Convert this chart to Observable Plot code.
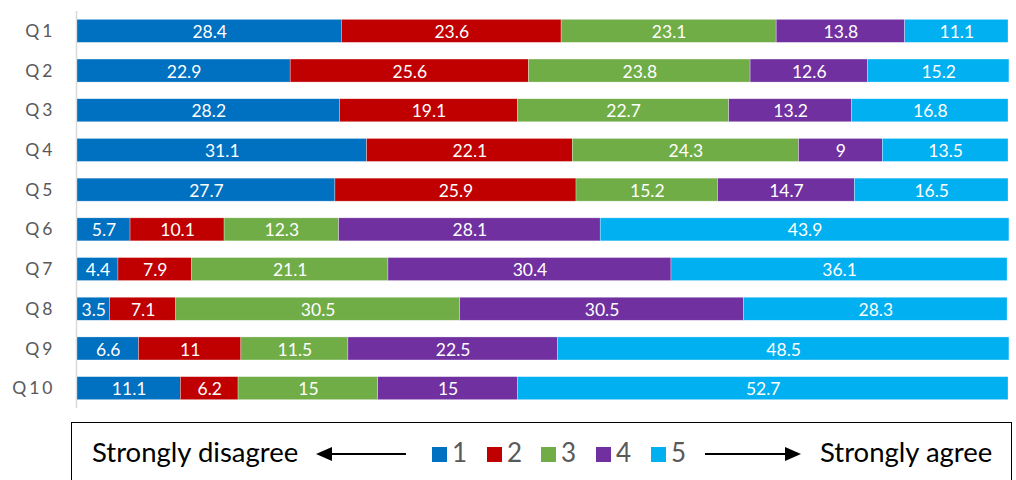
<!DOCTYPE html>
<html>
<head>
<meta charset="utf-8">
<script src="https://cdn.jsdelivr.net/npm/d3@7"></script>
<script src="https://cdn.jsdelivr.net/npm/@observablehq/plot@0.6"></script>
<style>
  html, body { margin: 0; padding: 0; background: #fff; width: 1016px; height: 480px; overflow: hidden; font-family: Lato, "Open Sans", sans-serif; }
  #wrap { position: relative; width: 1016px; height: 480px; }
  #chart svg { display: block; }
  #legend { position: absolute; left: 71px; top: 422px; width: 941px; height: 80px; border: 1.5px solid #000; box-sizing: border-box; }
  #legend .lbl { position: absolute; top: 7px; font-size: 27.5px; color: #000; white-space: nowrap; line-height: 44px; }
  #legend .num { position: absolute; top: 7px; font-size: 26px; color: #595959; line-height: 44px; }
  #legend .sq { position: absolute; top: 24px; width: 15px; height: 15px; }
  #legend svg.arrow { position: absolute; top: 19px; }
  .yax text { letter-spacing: 3px; }
</style>
</head>
<body>
<div id="wrap">
  <div id="chart"></div>
  <div id="legend"></div>
</div>
<script>
const questions = ["Q1","Q2","Q3","Q4","Q5","Q6","Q7","Q8","Q9","Q10"];
const categories = ["1","2","3","4","5"];
const colors = ["#0070c0","#c00000","#70ad47","#7030a0","#00b0f0"];
const v1 = [28.4, 22.9, 28.2, 31.1, 27.7, 5.7, 4.4, 3.5, 6.6, 11.1];
const v2 = [23.6, 25.6, 19.1, 22.1, 25.9, 10.1, 7.9, 7.1, 11, 6.2];
const v3 = [23.1, 23.8, 22.7, 24.3, 15.2, 12.3, 21.1, 30.5, 11.5, 15];
const v4 = [13.8, 12.6, 13.2, 9, 14.7, 28.1, 30.4, 30.5, 22.5, 15];
const v5 = [11.1, 15.2, 16.8, 13.5, 16.5, 43.9, 36.1, 28.3, 48.5, 52.7];
const legendLeft = "Strongly disagree";
const legendRight = "Strongly agree";

const series = [v1, v2, v3, v4, v5];
const data = [];
categories.forEach((c, ci) => {
  questions.forEach((q, qi) => data.push({q, cat: c, value: series[ci][qi]}));
});

const chart = Plot.plot({
  width: 1016,
  height: 415,
  marginLeft: 77,
  marginRight: 8,
  marginTop: 11,
  marginBottom: 7,
  style: {fontFamily: "Lato, 'Open Sans', sans-serif", background: "#fff"},
  x: {domain: [0, 100], axis: null},
  y: {domain: questions, paddingInner: 0.42, paddingOuter: 0.21, round: false, label: null},
  color: {domain: categories, range: colors},
  marks: [
    Plot.ruleX([0], {dx: -1, stroke: "#d9d9d9", strokeWidth: 1.5}),
    Plot.barX(data, Plot.stackX({x: "value", y: "q", fill: "cat", z: "cat", stroke: "#ffffff", strokeWidth: 0.6, strokeOpacity: 0.5})),
    Plot.text(data, Plot.stackX({x: "value", y: "q", z: "cat", text: d => String(d.value), fill: "white", fontSize: 17.5, dy: 1})),
    Plot.axisY({tickSize: 0, tickPadding: 22, fontSize: 17.5, fill: "#595959", className: "yax", label: null})
  ]
});
document.getElementById("chart").appendChild(chart);

// legend
const leg = d3.select("#legend");
const ox = 72; // box left in page coords
leg.append("span").attr("class", "lbl").style("left", (92 - ox) + "px").text(legendLeft);
const la = leg.append("svg").attr("class", "arrow").attr("width", 95).attr("height", 24).style("left", (314 - ox) + "px");
la.append("line").attr("x1", 14).attr("x2", 92).attr("y1", 12).attr("y2", 12).attr("stroke", "#000").attr("stroke-width", 2);
la.append("path").attr("d", "M2,12 L18,5 L18,19 Z").attr("fill", "#000");
const sqX = [432, 487, 541, 596, 651];
categories.forEach((c, i) => {
  leg.append("div").attr("class", "sq").style("left", (sqX[i] - ox) + "px").style("background", colors[i]);
  leg.append("span").attr("class", "num").style("left", (sqX[i] + 20 - ox) + "px").text(c);
});
const ra = leg.append("svg").attr("class", "arrow").attr("width", 100).attr("height", 24).style("left", (703 - ox) + "px");
ra.append("line").attr("x1", 2).attr("x2", 84).attr("y1", 12).attr("y2", 12).attr("stroke", "#000").attr("stroke-width", 2);
ra.append("path").attr("d", "M98,12 L82,5 L82,19 Z").attr("fill", "#000");
leg.append("span").attr("class", "lbl").style("left", (820 - ox) + "px").text(legendRight);
</script>
</body>
</html>
